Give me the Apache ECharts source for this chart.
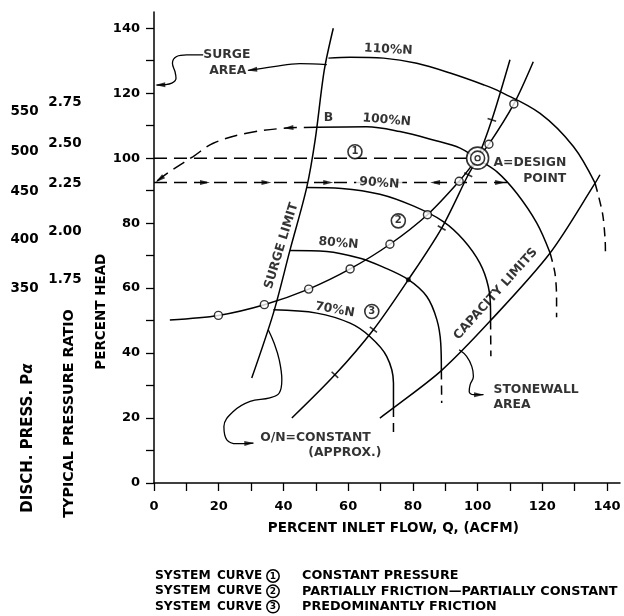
<!DOCTYPE html>
<html><head><meta charset="utf-8">
<script src="https://cdn.jsdelivr.net/npm/echarts@6/dist/echarts.min.js"></script>
<style>html,body{margin:0;padding:0;background:#fff}#c{width:624px;height:616px}</style>
</head><body><div id="c"></div>
<script>
// ---------- DATA ----------
const xTicks = [0,10,20,30,40,50,60,70,80,90,100,110,120,130,140];
const xTickLabels = [0,20,40,60,80,100,120,140];
const yTicks = [0,10,20,30,40,50,60,70,80,90,100,110,120,130,140];
const yTickLabels = [0,20,40,60,80,100,120,140];

// speed lines (percent flow, percent head)
const speed110 = [[53.9,130.8],[60.6,131.1],[70.9,130.8],[81.2,129.2],[91.5,126.2],[101.8,122.6],[106.9,120.5],[119.3,113.8],[129.6,103.6],[136.3,92.3]];
const speed110Ext = [[136.3,92.3],[138.6,83],[139.4,75],[139.5,70.8]];
const speed100 = [[50.3,109.5],[65.7,109.7],[76.0,108.2],[86.3,105.6],[94.6,103.1],[100,99.7],[106.0,95.8],[112.1,89.2],[118.3,80.0],[122.4,70.8]];
const speed100Ext = [[122.4,70.8],[123.9,64.6],[124.4,57],[124.4,51.0]];
const speed90 = [[47.2,91.0],[58.0,90.7],[69.8,88.9],[80.1,85.3],[89.4,80.5],[95.6,74.9],[100.7,67.7],[103.3,60.5],[104.0,53.0],[104.0,50.0]];
const speed90Ext = [[104.0,50.0],[104.1,39.0]];
const speed80 = [[42.0,71.6],[53.4,71.3],[63.7,69.2],[70.5,66.6],[78.6,62.6],[84.3,57.4],[87.4,50.3],[88.6,43.1],[88.8,34.6]];
const speed80Ext = [[88.8,34.6],[88.9,24.6]];
const speed70 = [[36.9,53.3],[50.3,52.3],[60.6,49.2],[66.7,45.1],[71.9,39.0],[74.0,30.8],[74.0,23.1]];
const speed70Ext = [[74.0,23.1],[74.0,15.4]];

const surgeLimit = [[55.4,140.0],[52.6,127.0],[49.8,105.6],[47.2,91.0],[42.0,71.6],[36.9,52.3],[30.2,32.3]];
const capacityLimit = [[69.8,20.0],[74.0,23.1],[88.8,34.6],[104.0,50.0],[122.4,70.8],[136.3,92.3],[137.8,94.9]];

// system curves
const system1Level = [[0,100],[96.8,100]];
const system1Return = [[0,92.5],[110,92.5]];
const system1Arc = [[50.3,109.5],[40.0,109.2],[28.6,107.7],[18.3,104.6],[12.1,100.5],[4.9,95.9],[0.5,92.6]];
const system2 = [[4.9,50.2],[19.9,51.6],[34.1,54.9],[47.8,59.7],[60.6,65.9],[72.9,73.5],[84.5,82.6],[94.3,92.9],[100,100],[103.5,104.3],[111.2,116.7],[117.2,129.7]];
const system2Points = [[19.9,51.6],[34.1,54.9],[47.8,59.7],[60.6,65.9],[72.9,73.5],[84.5,82.6],[94.3,92.9],[103.5,104.3],[111.2,116.7]];
const system3 = [[42.6,20.0],[55.9,33.3],[67.8,47.2],[78.6,62.6],[88.9,78.5],[97.1,94.9],[100,100],[104.4,111.8],[110.0,130.3]];
const system3Marks = [1,2,4,5,7]; // indices of points carrying tick marks
const system3Dot = [[78.6,62.6]];
const designPoint = [[100,100]];
const curveNumbers = [{n:'1', p:[62.1,102.0]},{n:'2', p:[75.5,80.7]},{n:'3', p:[67.3,52.8]}];

// leader lines
const leaderSurge = [[15.2,131.8],[10.1,131.8],[7.0,131.3],[5.7,129.2],[6.5,126.6],[6.8,124.6],[5.5,123.1],[2.9,122.6],[0.8,122.5]];
const leaderArea = [[53.4,128.8],[45.1,129.1],[37.0,128.2],[29.1,127.0]];
const leaderQN = [[35.3,47.2],[37.1,43.1],[38.7,37.9],[39.5,31.8],[38.7,27.7],[35.8,26.2],[29.7,25.1],[24.5,22.0],[21.6,17.4],[22.5,13.3],[25.6,12.1],[30.7,12.3]];
const leaderStonewall = [[94.3,41.0],[96.6,39.0],[98.2,35.9],[98.7,32.8],[97.7,30.3],[97.4,28.2],[98.7,27.2],[101.8,27.2]];

// arrowheads: [fromX, fromY, toX, toY]
const arrows = [
  [4.9,95.9,0.5,92.6],[44,109.5,40,109.2],
  [14,92.5,17.3,92.5],[33,92.5,36.3,92.5],[52,92.5,55.4,92.5],[88.5,92.5,85.3,92.5],[105,92.5,108.5,92.5],
  [2.9,122.6,0.4,122.5],[34.0,127.6,28.8,127.0],[25.6,12.1,31.0,12.3],[98.7,27.2,102,27.2]
];

// secondary scales (placed at percent-head levels)
const ratioLabels = ['2.75','2.50','2.25','2.00','1.75'];
const ratioHeads = [117.1,104.6,92.3,77.4,62.6];
const pressLabels = ['550','500','450','400','350'];
const pressHeads = [114.5,102.0,89.7,74.9,60.0];

const legendRows = [
  {n:'1', text:'CONSTANT PRESSURE'},
  {n:'2', text:'PARTIALLY FRICTION\u2014PARTIALLY CONSTANT'},
  {n:'3', text:'PREDOMINANTLY FRICTION'}
];

// ---------- LAYOUT ----------
const FONT = 'DejaVu Sans';
const G = {left:154, right:4, top:12, bottom:133};
const XMAX = 144, YMAX = 145;
const kx = (624 - G.left - G.right) / XMAX;
const ky = (616 - G.top - G.bottom) / YMAX;

function line(data, o) {
  o = o || {};
  return {type:'line', data:data, showSymbol:false, symbol:'none', smooth: o.smooth==null?0.35:o.smooth,
    lineStyle:{color:'#000', width:o.width||1.5, type:o.dash||'solid'}, silent:true, z:o.z||2, clip:false, animation:false};
}

const annotations = [
  {t:'110%N', x:72.4, y:133.4, r:-3},
  {t:'100%N', x:71.9, y:111.7, r:-5},
  {t:'B', x:53.9, y:112.4},
  {t:'90%N', x:69.6, y:92.3, r:-4, bg:true},
  {t:'80%N', x:57.0, y:73.8, r:-5},
  {t:'70%N', x:55.9, y:53.3, r:-10},
  {t:'SURGE', x:22.5, y:131.8},
  {t:'AREA', x:22.8, y:127.0},
  {t:'A=DESIGN', x:104.9, y:98.5, a:'left'},
  {t:'POINT', x:114.1, y:93.8, a:'left'},
  {t:'STONEWALL', x:104.9, y:28.7, a:'left'},
  {t:'AREA', x:104.9, y:24.1, a:'left'},
  {t:'O/N=CONSTANT', x:32.8, y:13.8, a:'left'},
  {t:'(APPROX.)', x:47.7, y:9.2, a:'left'},
  {t:'SURGE LIMIT', x:39.4, y:73.0, r:73},
  {t:'CAPACITY LIMITS', x:105.6, y:58.2, r:48}
];

function angleDeg(x1,y1,x2,y2){ return Math.atan2((y2-y1)*ky, (x2-x1)*kx)*180/Math.PI; }

const arrowData = arrows.map(function(a){
  const ang = angleDeg(a[0],a[1],a[2],a[3]);
  const rad = ang*Math.PI/180;
  const half = 5;
  return {value:[a[2]-Math.cos(rad)*half/kx, a[3]-Math.sin(rad)*half/ky], symbolRotate: ang-90};
});

const markData = system3Marks.map(function(i){
  const p = system3[i], a = system3[i-1], b = system3[i+1];
  return {value:p, symbolRotate: angleDeg(a[0],a[1],b[0],b[1])};
});

const series = [
  line(speed110), line(speed110Ext,{dash:[9,6],smooth:0.3}),
  line(speed100), line(speed100Ext,{dash:[9,6],smooth:0.3}),
  line(speed90), line(speed90Ext,{dash:[9,6]}),
  line(speed80), line(speed80Ext,{dash:[9,6]}),
  line(speed70), line(speed70Ext,{dash:[9,6]}),
  line(surgeLimit,{smooth:0.3}), line(capacityLimit,{smooth:0.3}),
  line(system1Level,{dash:[13,7],smooth:0}), line(system1Return,{dash:[13,7],smooth:0}),
  line(system1Arc,{dash:[13,7]}),
  line(system2,{smooth:0.3}), line(system3,{smooth:0.3}),
  line(leaderSurge,{width:1.3,smooth:0.4}), line(leaderArea,{width:1.3,smooth:0.4}),
  line(leaderQN,{width:1.3,smooth:0.4}), line(leaderStonewall,{width:1.3,smooth:0.4}),
  {type:'scatter', data:system2Points, symbol:'circle', symbolSize:8, itemStyle:{color:'#fff', borderColor:'#000', borderWidth:1.4}, z:6, silent:true, animation:false},
  {type:'scatter', data:markData, symbol:'rect', symbolSize:[1.6,9], itemStyle:{color:'#000'}, z:6, silent:true, animation:false},
  {type:'scatter', data:system3Dot, symbol:'circle', symbolSize:5, itemStyle:{color:'#000'}, z:6, silent:true, animation:false},
  {type:'scatter', data:arrowData, symbol:'triangle', symbolSize:[5,10], itemStyle:{color:'#000'}, z:7, silent:true, animation:false, clip:false},
  {type:'scatter', data:designPoint, symbol:'circle', symbolSize:22, itemStyle:{color:'#fff', borderColor:'#000', borderWidth:1.6}, z:8, silent:true, animation:false},
  {type:'scatter', data:designPoint, symbol:'circle', symbolSize:14, itemStyle:{color:'#fff', borderColor:'#000', borderWidth:1.6}, z:9, silent:true, animation:false},
  {type:'scatter', data:designPoint, symbol:'circle', symbolSize:5, itemStyle:{color:'#fff', borderColor:'#000', borderWidth:1.4}, z:10, silent:true, animation:false},
  {type:'scatter', data:curveNumbers.map(function(c){return {value:c.p, label:{formatter:c.n}};}), symbol:'circle', symbolSize:14,
    itemStyle:{color:'#fff', borderColor:'#000', borderWidth:1.6}, z:8, silent:true, animation:false,
    label:{show:true, position:'inside', color:'#000', fontFamily:FONT, fontWeight:'bold', fontSize:10}},
  {type:'scatter', symbolSize:0, z:11, silent:true, animation:false, clip:false,
    data: annotations.map(function(a){
      return {value:[a.x,a.y], label:{show:true, formatter:a.t, rotate:a.r||0, align:a.a||'center', verticalAlign:'middle',
        backgroundColor:a.bg?'#fff':'transparent', padding:a.bg?[0,3]:0}};
    }),
    label:{show:true, position:'inside', color:'#000', fontFamily:FONT, fontWeight:'bold', fontSize:12.4}}
];

const txt = {fill:'#000', fontFamily:FONT, fontWeight:'bold'};
function T(text, x, y, o){
  o = o || {};
  return {type:'text', x:x, y:y, rotation:o.rot||0, silent:true,
    style:Object.assign({text:text, fontSize:o.size||13, textAlign:o.align||'center', textVerticalAlign:'middle'}, txt, o.style||{})};
}

const chart = echarts.init(document.getElementById('c'));
const option = {
  backgroundColor:'#fff',
  animation:false,
  grid:{left:G.left, right:G.right, top:G.top, bottom:G.bottom, containLabel:false, outerBoundsMode:'none'},
  xAxis:{type:'value', min:0, max:XMAX,
    axisLine:{show:true, lineStyle:{color:'#000', width:1.5}},
    axisTick:{show:true, length:8, customValues:xTicks, lineStyle:{color:'#000', width:1.3}},
    axisLabel:{show:true, customValues:xTickLabels, margin:17, color:'#000', fontFamily:FONT, fontWeight:'bold', fontSize:13},
    splitLine:{show:false}},
  yAxis:{type:'value', min:0, max:YMAX,
    axisLine:{show:true, onZero:false, lineStyle:{color:'#000', width:1.5}},
    axisTick:{show:true, length:8, customValues:yTicks, lineStyle:{color:'#000', width:1.3}},
    axisLabel:{show:true, customValues:yTickLabels, margin:14, color:'#000', fontFamily:FONT, fontWeight:'bold', fontSize:13},
    splitLine:{show:false}},
  series:series
};
chart.setOption(option);

// outer texts
const g = [];
function yPix(v){ return chart.convertToPixel({yAxisIndex:0}, v); }
ratioLabels.forEach(function(l,i){ g.push(T(l, 65, yPix(ratioHeads[i]), {size:13.5})); });
pressLabels.forEach(function(l,i){ g.push(T(l, 24.5, yPix(pressHeads[i]), {size:13.5})); });
g.push(T('PERCENT HEAD', 101.7, 311.7, {rot:Math.PI/2, size:13.5}));
g.push(T('TYPICAL PRESSURE RATIO', 69, 413.5, {rot:Math.PI/2, size:14.3}));
g.push({type:'text', x:28.3, y:438, rotation:Math.PI/2, silent:true,
  style:Object.assign({text:'DISCH. PRESS. P{a|\u03b1}', fontSize:15, textAlign:'center', textVerticalAlign:'middle',
    rich:{a:{fontStyle:'italic', fontFamily:FONT, fontWeight:'bold', fontSize:15, fill:'#000'}}}, txt)});
g.push(T('PERCENT INLET FLOW, Q, (ACFM)', 393.3, 528.3, {size:13.5}));
legendRows.forEach(function(r,i){
  const y = 576 + i*15.3;
  g.push(T('SYSTEM', 155, y, {align:'left', size:12.3}));
  g.push(T('CURVE', 217, y, {align:'left', size:12}));
  g.push({type:'circle', shape:{cx:273, cy:y, r:6.2}, style:{fill:'#fff', stroke:'#000', lineWidth:1.5}, silent:true});
  g.push(T(r.n, 273, y+0.5, {size:9}));
  g.push(T(r.text, 302, y, {align:'left', size:12.8}));
});
chart.setOption({graphic:g});
</script></body></html>
